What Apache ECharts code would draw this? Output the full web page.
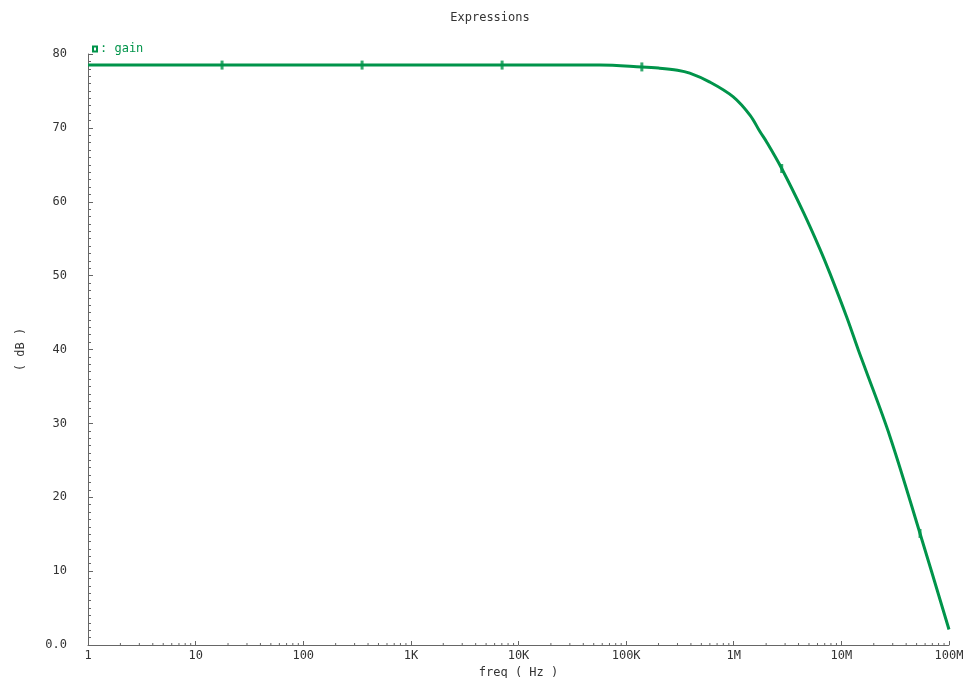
<!DOCTYPE html>
<html lang="en">
<head>
    <meta charset="UTF-8">
    <title>Expressions</title>
    <script src="https://cdn.jsdelivr.net/npm/echarts@6/dist/echarts.min.js"></script>
</head>
<body style="margin:0;background:#fff;">
    <div id="pic1" style="width:980px;height:678px;"></div>
    <script>
        // frequency (Hz) and gain (dB)
        var freq = [1, 10, 100, 1e3, 1e4, 5.7e4, 1.4e5, 2e5, 3e5, 3.9e5, 6e5, 9.9e5, 1.42e6, 1.75e6, 2.02e6, 2.79e6, 4.43e6, 6.32e6, 7.83e6, 1.12e7, 1.44e7, 1.6e7, 2.83e7, 5.38e7, 1e8];
        var gain = [78.5, 78.5, 78.5, 78.5, 78.5, 78.5, 78.25, 78.1, 77.8, 77.4, 76.2, 74.2, 71.7, 69.5, 68.1, 64.5, 58.6, 53.6, 50.3, 44.4, 39.9, 38.1, 28.2, 15.1, 2.1];

        // the little "|" markers drawn along the curve
        var markFreq = [17.6, 352, 7040, 1.4e5, 2.79e6, 5.38e7];
        var markGain = [78.5, 78.5, 78.5, 78.25, 64.5, 15.1];

        // x tick labels (one per decade) and minor tick multipliers
        var xLabels = ['1', '10', '100', '1K', '10K', '100K', '1M', '10M', '100M'];
        var decades = [1, 10, 100, 1e3, 1e4, 1e5, 1e6, 1e7];
        var minorMul = [2, 3, 4, 5, 6, 7, 8, 9];

        var green = '#00944a';
        var font = 'DejaVu Sans Mono';

        var lineData = freq.map(function (f, i) { return [f, gain[i]]; });
        var markData = markFreq.map(function (f, i) { return [f, markGain[i]]; });
        var minorData = [];
        decades.forEach(function (d) {
            minorMul.forEach(function (m) { minorData.push([d * m, 0]); });
        });

        var myChart = echarts.init(document.getElementById('pic1'));
        myChart.setOption({
            animation: false,
            backgroundColor: '#ffffff',
            title: {
                text: 'Expressions',
                left: 'center',
                top: 7,
                textStyle: { fontFamily: font, fontSize: 12, fontWeight: 'normal', color: '#333' }
            },
            legend: {
                data: ['gain'],
                left: 87,
                top: 38,
                icon: 'emptyRect',
                itemWidth: 4,
                itemHeight: 5,
                itemGap: 2,
                formatter: ': {name}',
                textStyle: { fontFamily: font, fontSize: 12, color: green, padding: [0, 0, 0, -2] }
            },
            grid: { left: 88, right: 31, top: 54, bottom: 33, outerBoundsMode: 'none', containLabel: false },
            xAxis: {
                type: 'log',
                logBase: 10,
                min: 1,
                max: 1e8,
                interval: 1,
                name: 'freq ( Hz )',
                nameLocation: 'middle',
                nameGap: 13,
                nameTextStyle: { fontFamily: font, fontSize: 12, color: '#333' },
                axisLine: { lineStyle: { color: '#666', width: 1 } },
                axisTick: { show: true, inside: true, length: 4, lineStyle: { color: '#666' } },
                axisLabel: {
                    fontFamily: font, fontSize: 12, color: '#333', margin: 5,
                    formatter: function (v) {
                        var k = Math.round(Math.log10(v));
                        return xLabels[k];
                    }
                },
                splitLine: { show: false }
            },
            yAxis: {
                type: 'value',
                min: 0,
                max: 80,
                interval: 10,
                name: '( dB )',
                nameLocation: 'middle',
                nameGap: 61,
                nameTextStyle: { fontFamily: font, fontSize: 12, color: '#333' },
                axisLine: { show: true, lineStyle: { color: '#666', width: 1 } },
                axisTick: { show: true, inside: true, length: 5, lineStyle: { color: '#666' } },
                minorTick: { show: true, splitNumber: 10, length: 3, lineStyle: { color: '#666' } },
                axisLabel: {
                    fontFamily: font, fontSize: 12, color: '#333', margin: 21,
                    formatter: function (v) { return v === 0 ? '0.0' : String(v); }
                },
                splitLine: { show: false }
            },
            series: [
                {
                    name: 'gain',
                    type: 'line',
                    data: lineData,
                    smooth: 0.35,
                    showSymbol: false,
                    color: green,
                    lineStyle: { color: green, width: 3 },
                    z: 3
                },
                {
                    name: 'markers',
                    type: 'scatter',
                    data: markData,
                    symbol: 'rect',
                    symbolSize: [3, 9],
                    itemStyle: { color: green },
                    z: 4
                },
                {
                    name: 'xminor',
                    type: 'custom',
                    data: minorData,
                    silent: true,
                    renderItem: function (params, api) {
                        var p = api.coord([api.value(0), 0]);
                        return {
                            type: 'line',
                            shape: { x1: p[0], y1: p[1], x2: p[0], y2: p[1] - 2 },
                            style: { stroke: '#666', lineWidth: 1 }
                        };
                    },
                    z: 2
                }
            ]
        });
    </script>
</body>
</html>
